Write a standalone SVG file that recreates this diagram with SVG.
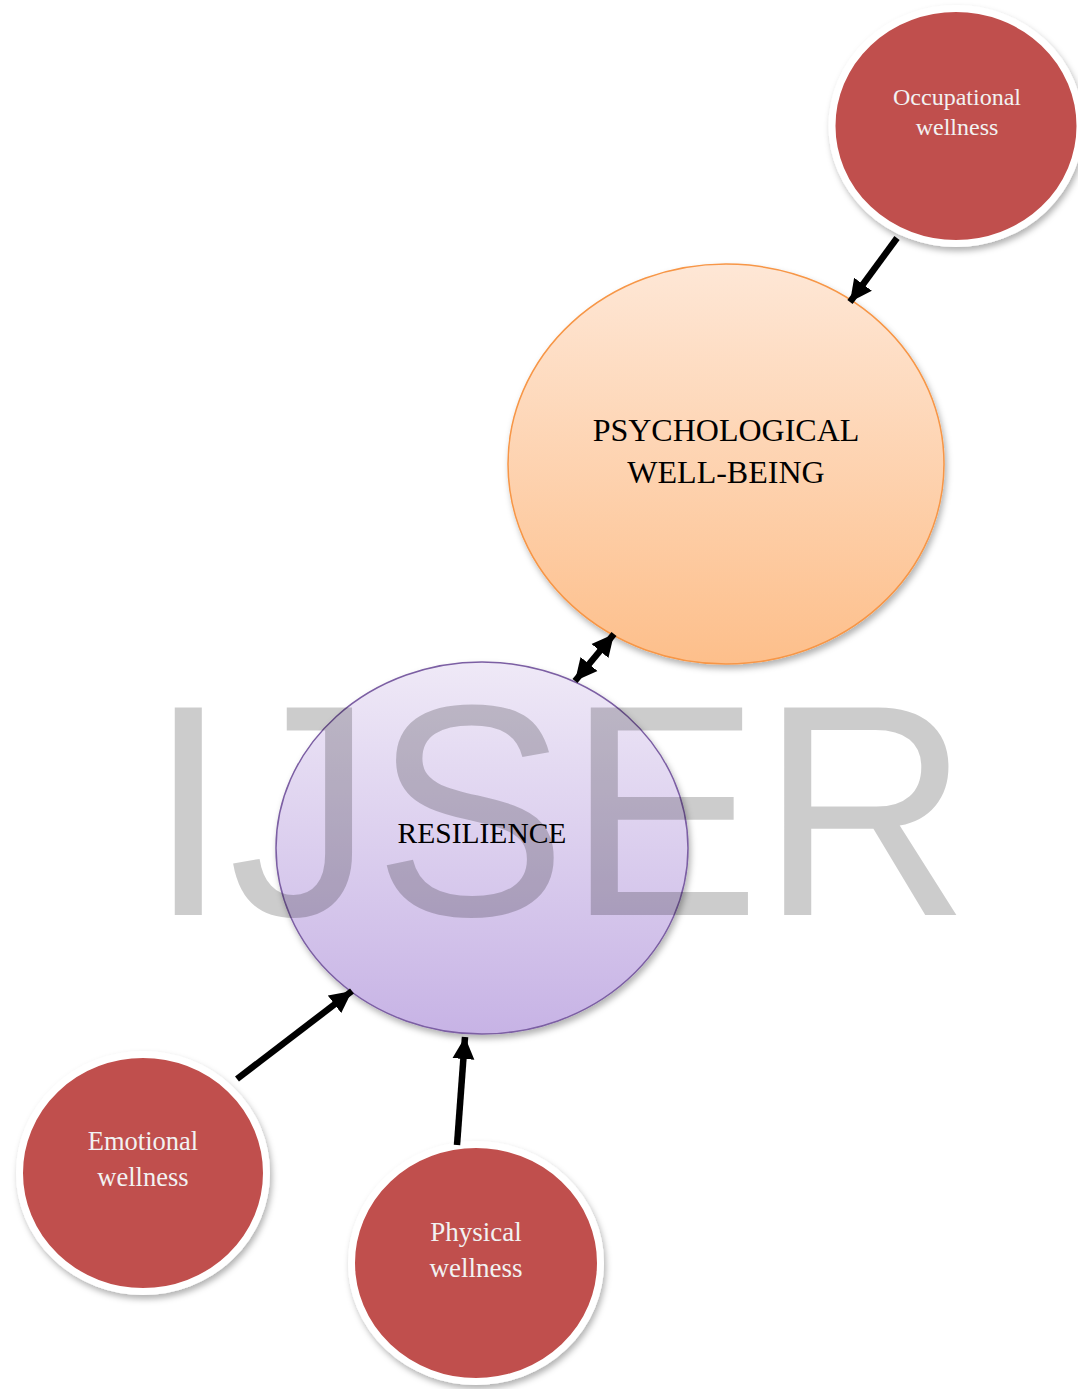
<svg xmlns="http://www.w3.org/2000/svg" width="1078" height="1389" viewBox="0 0 1078 1389">
<style>
.red{fill:#c0504d;stroke:#ffffff;stroke-width:7}
.wt{font-family:"Liberation Serif","Times New Roman",serif;fill:#f2f2f2;text-anchor:middle}
.bt{font-family:"Liberation Serif","Times New Roman",serif;fill:#000000;text-anchor:middle}
.conn{stroke:#000;stroke-width:6.5;fill:none}
</style>
<defs>
<linearGradient id="gOrange" x1="0" y1="0" x2="0" y2="1">
<stop offset="0" stop-color="#fee7d6"/>
<stop offset="1" stop-color="#fdbf8b"/>
</linearGradient>
<linearGradient id="gPurple" x1="0" y1="0" x2="0" y2="1">
<stop offset="0" stop-color="#efe9f7"/>
<stop offset="1" stop-color="#c7b3e5"/>
</linearGradient>
<filter id="sh" x="-20%" y="-20%" width="140%" height="140%">
<feDropShadow dx="2" dy="4" stdDeviation="3" flood-color="#000" flood-opacity="0.3"/>
</filter>
<marker id="ah" viewBox="0 0 10 10" refX="10" refY="5" markerWidth="22" markerHeight="23" markerUnits="userSpaceOnUse" orient="auto-start-reverse">
<path d="M0,0 L10,5 L0,10 z" fill="#000"/>
</marker>
</defs>

<g id="node-psych">
<ellipse cx="726" cy="464" rx="218" ry="200" fill="url(#gOrange)" stroke="#f79646" stroke-width="1.5" filter="url(#sh)"/>
<text class="bt" x="726" y="441" font-size="32">PSYCHOLOGICAL</text>
<text class="bt" x="726" y="483" font-size="32">WELL-BEING</text>
</g>

<g id="node-resilience">
<ellipse cx="482" cy="848" rx="206" ry="186" fill="url(#gPurple)" stroke="#7b5ea3" stroke-width="1.5" filter="url(#sh)"/>
<text class="bt" x="482" y="843" font-size="29.5">RESILIENCE</text>
</g>

<g id="node-occupational">
<ellipse class="red" cx="956" cy="126" rx="124" ry="117.5" filter="url(#sh)"/>
<text class="wt" x="957" y="105" font-size="24">Occupational</text>
<text class="wt" x="957" y="135" font-size="24">wellness</text>
</g>

<g id="node-emotional">
<ellipse class="red" cx="143" cy="1173" rx="123.5" ry="118.5" filter="url(#sh)"/>
<text class="wt" x="143" y="1150" font-size="26.5">Emotional</text>
<text class="wt" x="143" y="1186" font-size="26.5">wellness</text>
</g>

<g id="node-physical">
<ellipse class="red" cx="476" cy="1263" rx="124.5" ry="118.5" filter="url(#sh)"/>
<text class="wt" x="476" y="1241" font-size="27">Physical</text>
<text class="wt" x="476" y="1277" font-size="27">wellness</text>
</g>

<g id="connectors">
<line class="conn" x1="897" y1="238" x2="850" y2="302" marker-end="url(#ah)"/>
<line class="conn" x1="614" y1="634" x2="575" y2="681" marker-start="url(#ah)" marker-end="url(#ah)"/>
<line class="conn" x1="237" y1="1079" x2="352" y2="991" marker-end="url(#ah)"/>
<line class="conn" x1="457" y1="1145" x2="465" y2="1037" marker-end="url(#ah)"/>
</g>

<text transform="translate(148,915) scale(1,1.04)" x="0" y="0" font-family="Liberation Sans, Arial, sans-serif" font-size="290" fill="#000" fill-opacity="0.2">IJSER</text>
</svg>
